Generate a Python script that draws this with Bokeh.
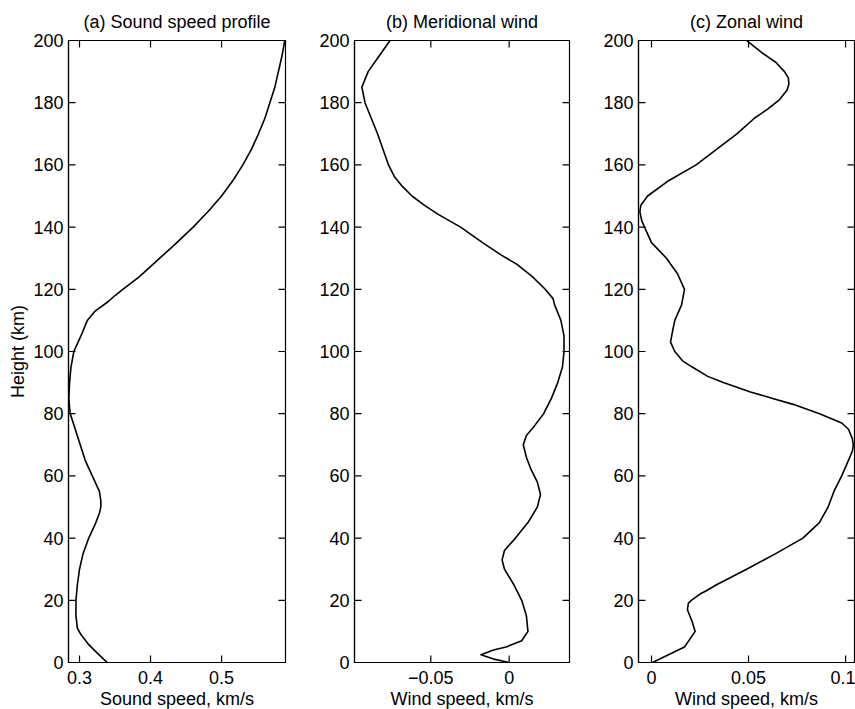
from bokeh.plotting import figure
from bokeh.layouts import row
from bokeh.models import FixedTicker, CustomJSTickFormatter, Range1d
from bokeh.embed import file_html
from bokeh.resources import INLINE

# ---- data ----
sound_h = [0, 3, 6, 9, 11, 15, 20, 25, 30, 35, 40, 45, 48, 50, 52, 55, 60, 65, 70, 75, 80,
           82, 85, 90, 95, 100, 105, 110, 113, 116, 118, 120, 124, 130, 135, 140, 145, 150,
           155, 160, 165, 170, 175, 180, 185, 190, 195, 200]
sound_v = [0.339, 0.325, 0.312, 0.302, 0.297, 0.295, 0.295, 0.297, 0.300, 0.305, 0.313,
           0.323, 0.328, 0.330, 0.330, 0.328, 0.318, 0.308, 0.301, 0.294, 0.287, 0.286,
           0.285, 0.286, 0.288, 0.292, 0.302, 0.311, 0.322, 0.340, 0.350, 0.361, 0.384,
           0.413, 0.437, 0.460, 0.481, 0.500, 0.516, 0.530, 0.542, 0.552, 0.561, 0.568,
           0.575, 0.580, 0.585, 0.589]

merid_h = [0, 1, 2.5, 4, 5, 7, 10, 15, 20, 25, 30, 33, 36, 40, 45, 50, 54, 58, 62, 66, 70,
           73, 76, 80, 85, 90, 95, 100, 105, 110, 115, 117, 120, 124, 128, 131, 135, 140,
           144, 147, 150, 153, 156, 160, 170, 180, 185, 190, 195, 200]
merid_v = [0.0, -0.009, -0.018, -0.010, -0.002, 0.008, 0.012, 0.011, 0.008, 0.003, -0.003,
           -0.0045, -0.003, 0.004, 0.012, 0.018, 0.020, 0.018, 0.014, 0.011, 0.009, 0.011,
           0.016, 0.022, 0.027, 0.031, 0.034, 0.035, 0.035, 0.033, 0.029, 0.028, 0.023,
           0.015, 0.005, -0.005, -0.017, -0.031, -0.045, -0.054, -0.062, -0.068, -0.073,
           -0.077, -0.084, -0.092, -0.094, -0.090, -0.083, -0.076]

zonal_h = [0, 5, 10, 13, 17, 19, 20, 22, 23, 25, 30, 35, 40, 45, 50, 55, 60, 65, 68, 70,
           72, 75, 77, 80, 83, 85, 87, 90, 92, 95, 97, 100, 103, 107, 110, 115, 120, 125,
           130, 135, 140, 142, 145, 147, 150, 155, 160, 165, 170, 175, 178, 181, 184, 186,
           188, 190, 193, 196, 200]
zonal_v = [0.0005, 0.017, 0.0225, 0.021, 0.0185, 0.019, 0.0205, 0.025, 0.028, 0.0335,
           0.049, 0.064, 0.078, 0.0865, 0.091, 0.094, 0.098, 0.1015, 0.1035, 0.104,
           0.1035, 0.1015, 0.098, 0.0866, 0.073, 0.062, 0.051, 0.037, 0.029, 0.021, 0.016,
           0.012, 0.0098, 0.011, 0.012, 0.0155, 0.017, 0.0134, 0.0077, 0.0, -0.0036,
           -0.005, -0.006, -0.0055, -0.002, 0.009, 0.023, 0.0335, 0.044, 0.053, 0.060,
           0.066, 0.0698, 0.0708, 0.0705, 0.0685, 0.064, 0.057, 0.049]

height_ticks = [0, 20, 40, 60, 80, 100, 120, 140, 160, 180, 200]
sound_ticks = [0.3, 0.4, 0.5]
merid_ticks = [-0.1, -0.05, 0]
zonal_ticks = [0, 0.05, 0.1]

FONT = "Liberation Sans"
FS = "18px"
H_MIN, H_MAX = 0, 200
FRAME_H = 622
TICK_PX = 7

fmt_code = "return String(tick).replace('-', '\\u2212');"


def style_axis(ax):
    ax.axis_line_color = "black"
    ax.axis_line_width = 1.2
    ax.major_tick_line_color = None
    ax.major_tick_in = 0
    ax.major_tick_out = 0
    ax.minor_tick_line_color = None
    ax.major_label_text_font = FONT
    ax.major_label_text_font_size = FS
    ax.major_label_text_color = "black"
    ax.axis_label_text_font = FONT
    ax.axis_label_text_font_style = "normal"
    ax.axis_label_text_font_size = FS
    ax.axis_label_text_color = "black"


def make_fig(title, xv, hv, xr, xticks, xlabel, ylabel, fw, bl, br):
    p = figure(frame_width=fw, frame_height=FRAME_H,
               x_range=Range1d(xr[0], xr[1]), y_range=Range1d(H_MIN, H_MAX),
               output_backend="svg", toolbar_location=None,
               min_border_left=bl, min_border_right=br,
               min_border_top=39, min_border_bottom=48,
               background_fill_color="white", border_fill_color="white")
    p.line(xv, hv, line_color="black", line_width=1.6, line_join="round")

    # inward tick marks on all four sides of the box (MATLAB style)
    dy = TICK_PX * (H_MAX - H_MIN) / FRAME_H
    dx = TICK_PX * (xr[1] - xr[0]) / fw
    nx, ny = len(xticks), len(height_ticks)
    tick_style = dict(line_color="black", line_width=1.2)
    p.segment(x0=xticks, y0=[H_MIN] * nx, x1=xticks, y1=[H_MIN + dy] * nx, **tick_style)
    p.segment(x0=xticks, y0=[H_MAX] * nx, x1=xticks, y1=[H_MAX - dy] * nx, **tick_style)
    p.segment(x0=[xr[0]] * ny, y0=height_ticks, x1=[xr[0] + dx] * ny, y1=height_ticks,
              **tick_style)
    p.segment(x0=[xr[1]] * ny, y0=height_ticks, x1=[xr[1] - dx] * ny, y1=height_ticks,
              **tick_style)

    p.grid.visible = False
    p.outline_line_color = "black"
    p.outline_line_width = 1.2

    p.title.text = title
    p.title.align = "center"
    p.title.text_font = FONT
    p.title.text_font_size = FS
    p.title.text_font_style = "normal"
    p.title.text_color = "black"
    p.title.standoff = 18

    fmt = CustomJSTickFormatter(code=fmt_code)
    p.xaxis.ticker = FixedTicker(ticks=xticks, minor_ticks=[])
    p.xaxis.formatter = fmt
    p.xaxis.axis_label = xlabel
    p.yaxis.ticker = FixedTicker(ticks=height_ticks, minor_ticks=[])
    if ylabel:
        p.yaxis.axis_label = ylabel
    for ax in p.xaxis + p.yaxis:
        style_axis(ax)
    p.xaxis.major_label_standoff = 8
    p.xaxis.axis_label_standoff = 2
    p.yaxis.major_label_standoff = 5
    p.yaxis.axis_label_standoff = 2
    return p


pa = make_fig("(a) Sound speed profile", sound_v, sound_h, (0.2845, 0.590), sound_ticks,
              "Sound speed, km/s", "Height (km)", 217, 68, 5)
pb = make_fig("(b) Meridional wind", merid_v, merid_h, (-0.0987, 0.0385), merid_ticks,
              "Wind speed, km/s", None, 215, 64, 5)
pc = make_fig("(c) Zonal wind", zonal_v, zonal_h, (-0.0067, 0.1046), zonal_ticks,
              "Wind speed, km/s", None, 216, 64, 1)

layout = row(pa, pb, pc)
open("out.html", "w").write(file_html(layout, INLINE))
